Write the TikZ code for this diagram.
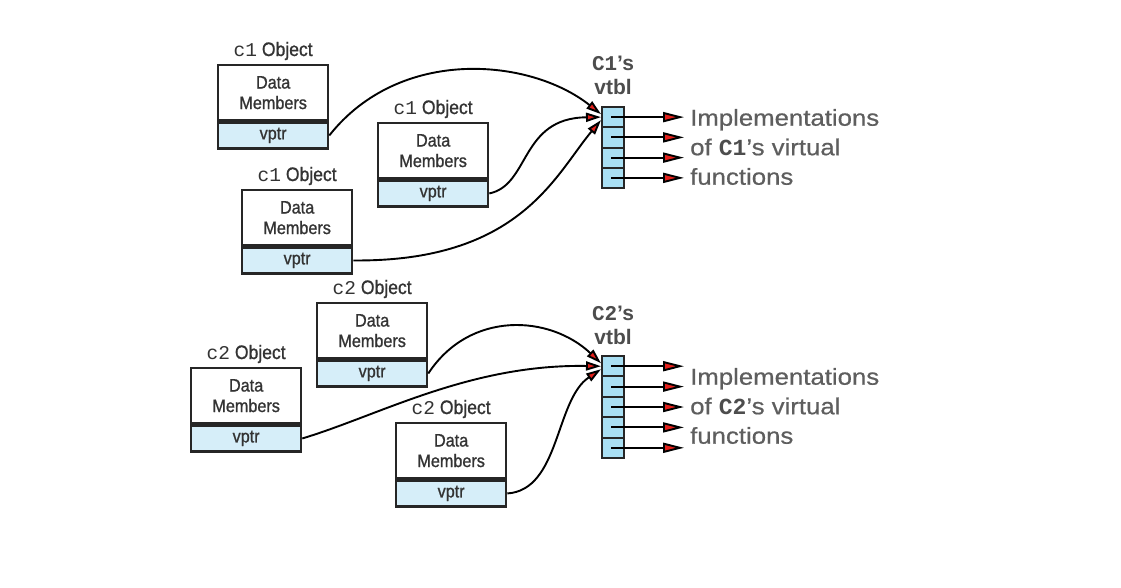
\documentclass[tikz,border=0pt]{standalone}
\usepackage{fontspec}
\setmainfont{Liberation Sans}
\newfontfamily\monofnt{Liberation Mono}
\newfontfamily\boxfnt[FakeStretch=0.9,FakeBold=1]{Liberation Sans}
\newfontfamily\widefnt[FakeStretch=1.12,FakeBold=0.6]{Liberation Sans}
\usetikzlibrary{arrows.meta}
\definecolor{vptrfill}{HTML}{D6EEF9}
\definecolor{vtblfill}{HTML}{A9DFF3}
\definecolor{arrred}{HTML}{E3201B}
\definecolor{boxtxt}{HTML}{333333}
\definecolor{impltxt}{HTML}{5E5E5E}
\definecolor{lbltxt}{HTML}{4D4D4D}
\tikzset{
  datanode/.style={draw=black!85, line width=2.3pt, minimum width=110pt, minimum height=55pt,
    anchor=north west, inner sep=0pt, align=center, text=boxtxt,
    font=\boxfnt\fontsize{18}{20.5}\selectfont},
  vptrnode/.style={draw=black!85, fill=vptrfill, line width=2.3pt, minimum width=110pt,
    minimum height=26pt, anchor=north west, inner sep=0pt, text=boxtxt,
    font=\boxfnt\fontsize{18}{20}\selectfont},
  objlabel/.style={anchor=base, inner sep=0pt, text=boxtxt, font=\boxfnt\fontsize{19.5}{20}\selectfont},
  cellnode/.style={draw=black!85, fill=vtblfill, line width=2pt, minimum width=22pt,
    anchor=north west, inner sep=0pt},
  ptr/.style={draw=black, line width=1.9pt,
    -{Triangle[length=15pt,width=9pt,fill=arrred]}},
  implarrow/.style={draw=black, line width=1.9pt,
    -{Triangle[length=21pt,width=10pt,fill=arrred]}},
  vlabel/.style={align=center, inner sep=0pt, text=lbltxt,
    font=\bfseries\fontsize{21}{24}\selectfont},
  impltext/.style={anchor=west, align=left, inner sep=0pt, text=impltxt,
    font=\widefnt\fontsize{23}{29.5}\selectfont}
}
\newcommand\objbox[4]{%
  \node[datanode] (#1d) at (#2,#3) {Data\\Members};
  \node[vptrnode] (#1v) at (#1d.south west) {vptr};
  \node[objlabel] (#1l) at ([yshift=8pt]#1d.north) {{\monofnt #4} Object};
}
\begin{document}
\begin{tikzpicture}[x=1pt,y=-1pt]
\useasboundingbox[fill=white] (0,0) rectangle (1121,587);

% c1 objects
\objbox{A}{217}{64}{c1}
\objbox{B}{377}{122}{c1}
\objbox{C}{241}{189}{c1}
% c2 objects
\objbox{D}{316}{302}{c2}
\objbox{E}{190}{367}{c2}
\objbox{F}{395}{422}{c2}

% vtbl 1
\foreach \i in {1,...,4}
  \node[cellnode, minimum height=20.25pt] (v1c\i) at (601,{106+20.25*(\i-1)}) {};
% vtbl 2
\foreach \i in {1,...,5}
  \node[cellnode, minimum height=20.4pt] (v2c\i) at (601,{355+20.4*(\i-1)}) {};

\node[vlabel] (t1) at (613,75) {{\monofnt C1}’s\\vtbl};
\node[vlabel] (t2) at (613,325) {{\monofnt C2}’s\\vtbl};

% implementation arrows
\foreach \i in {1,...,4}
  \draw[implarrow] ([xshift=-2pt]v1c\i.center) -- ([xshift=59pt]v1c\i.east);
\foreach \i in {1,...,5}
  \draw[implarrow] ([xshift=-2pt]v2c\i.center) -- ([xshift=59pt]v2c\i.east);

\node[impltext] (i1) at (690,147) {Implementations\\of {\monofnt\bfseries\color{lbltxt}C1}’s virtual\\functions};
\node[impltext] (i2) at (690,406) {Implementations\\of {\monofnt\bfseries\color{lbltxt}C2}’s virtual\\functions};

% pointers to vtbl 1
\draw[ptr] (Av.east) .. controls (400,46) and (530,58) .. ([yshift=3pt]v1c1.west);
\draw[ptr] (Bv.east) .. controls (530,185) and (520,118) .. (v1c1.west);
\draw[ptr] (Cv.east) .. controls (520,262) and (555,175) .. ([yshift=-3pt]v1c1.west);
% pointers to vtbl 2
\draw[ptr] (Dv.east) .. controls (470,310) and (550,315) .. ([yshift=3pt]v2c1.west);
\draw[ptr] (Ev.east) .. controls (380,415) and (470,364) .. (v2c1.west);
\draw[ptr] (Fv.east) .. controls (560,490) and (555,400) .. ([yshift=-3pt]v2c1.west);
\end{tikzpicture}
\end{document}
